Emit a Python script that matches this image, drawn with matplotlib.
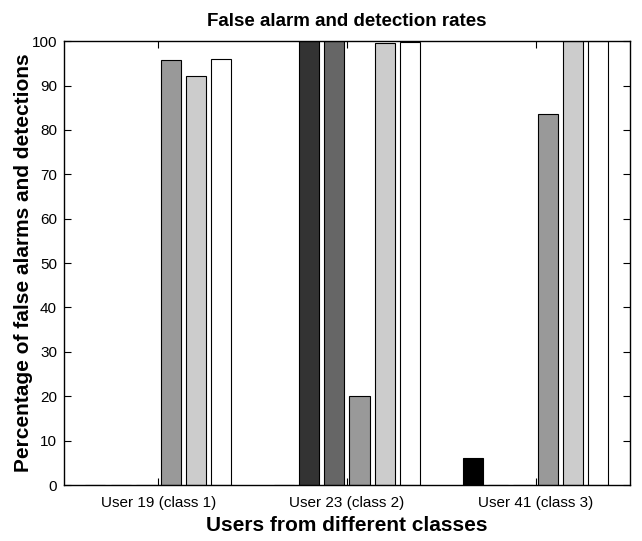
import matplotlib
matplotlib.use("Agg")
import matplotlib.pyplot as plt
import numpy as np

plt.rcParams['font.family'] = ['Liberation Sans', 'DejaVu Sans']

groups = ["User 19 (class 1)", "User 23 (class 2)", "User 41 (class 3)"]
series_colors = ["#000000", "#333333", "#666666", "#999999", "#cccccc", "#ffffff"]
values = [
    [0, 0, 6.0],
    [0, 100, 0],
    [0, 100, 0],
    [95.7, 20.0, 83.5],
    [92.1, 99.5, 100],
    [95.9, 99.8, 100],
]
yticks = list(range(0, 101, 10))

fig = plt.figure(figsize=(6.42, 5.41), dpi=100)
ax = fig.add_axes([0.0997, 0.1035, 0.8813, 0.8205])

n = len(values)
x = np.arange(1, len(groups) + 1)
step = 0.8 / n
width = step * 0.8
for i, (vals, c) in enumerate(zip(values, series_colors)):
    offs = (i - (n - 1) / 2) * step
    ax.bar(x + offs, vals, width=width, color=c, edgecolor="black", linewidth=0.8)

ax.set_xlim(0.5, 3.5)
ax.set_ylim(0, 100)
ax.set_xticks(x)
ax.set_xticklabels(groups, fontsize=11)
ax.set_yticks(yticks)
ax.set_yticklabels([str(t) for t in yticks], fontsize=11)
ax.tick_params(direction="in", top=True, right=True, length=5, width=0.8)
ax.tick_params(axis="x", pad=8)
ax.tick_params(axis="y", pad=5)
for s in ax.spines.values():
    s.set_linewidth(1.0)
ax.set_title("False alarm and detection rates", fontsize=13.5, fontweight="bold", pad=11)
ax.set_xlabel("Users from different classes", fontsize=15, fontweight="bold", labelpad=4)
ax.set_ylabel("Percentage of false alarms and detections", fontsize=15, fontweight="bold")
ax.yaxis.set_label_coords(-0.055, 0.5)

fig.savefig("out.png", dpi=100)
